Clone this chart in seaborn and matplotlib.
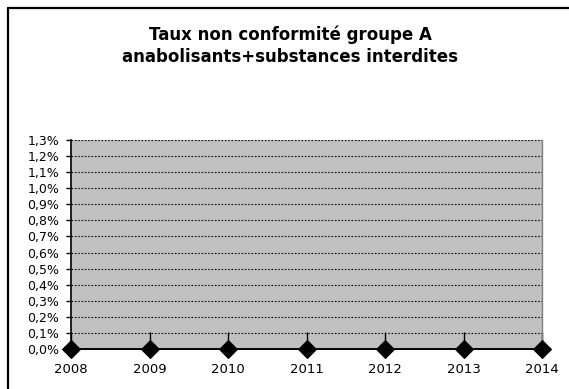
import matplotlib
matplotlib.use("Agg")
import matplotlib.pyplot as plt
import seaborn as sns
import pandas as pd
from matplotlib.lines import Line2D
from matplotlib.ticker import FuncFormatter, MultipleLocator

years = [2008, 2009, 2010, 2011, 2012, 2013, 2014]
taux = [0.0, 0.0, 0.0, 0.0, 0.0, 0.0, 0.0]
title = "Taux non conformité groupe A\nanabolisants+substances interdites"

sns.set_theme(style="white")
plt.rcParams['font.family'] = ['DejaVu Sans']
plt.rcParams['text.color'] = 'black'

df = pd.DataFrame({"annee": years, "taux": taux})

fig = plt.figure(figsize=(5.69, 3.89), dpi=100)
ax = fig.add_axes([71/569, 1-349/389, (542-71)/569, (349-140)/389])
ax.set_facecolor("#C0C0C0")

for y in [i/10 for i in range(1, 14)]:
    ax.axhline(y, color="#111111", lw=0.8, ls=(0, (1.5, 1.5)), zorder=1)

sns.lineplot(data=df, x="annee", y="taux", ax=ax, color="black", lw=1.2,
             marker="D", markersize=9, markeredgecolor="black", zorder=5, clip_on=False)

ax.set_xlim(2008, 2014)
ax.set_ylim(0, 1.3)
ax.set_xticks(years)
ax.set_xticklabels([str(y) for y in years])
ax.yaxis.set_major_locator(MultipleLocator(0.1))
ax.yaxis.set_major_formatter(FuncFormatter(lambda v, p: f"{v:.1f}%".replace(".", ",")))
ax.set_xlabel("")
ax.set_ylabel("")
ax.tick_params(axis="x", direction="in", length=12, width=1, colors="black", labelsize=9.5, pad=10, bottom=True)
ax.tick_params(axis="y", direction="out", length=3.5, width=1, colors="black", labelsize=9, pad=5, left=True)

for s in ["left", "bottom"]:
    ax.spines[s].set_color("black")
    ax.spines[s].set_linewidth(1.2)
ax.spines["right"].set_color("#808080")
ax.spines["right"].set_linewidth(1)
ax.spines["top"].set_visible(False)

fig.text(290/569, 1-46/389, title, ha="center", va="center", fontsize=12,
         fontweight="bold", linespacing=1.25, color="black")

fig.add_artist(Line2D([8/569, 1], [1-7.5/389, 1-7.5/389], transform=fig.transFigure, color="black", lw=1.6))
fig.add_artist(Line2D([8/569, 8/569], [1-7.5/389, 0], transform=fig.transFigure, color="black", lw=1.6))

fig.savefig("out.png", dpi=100)
